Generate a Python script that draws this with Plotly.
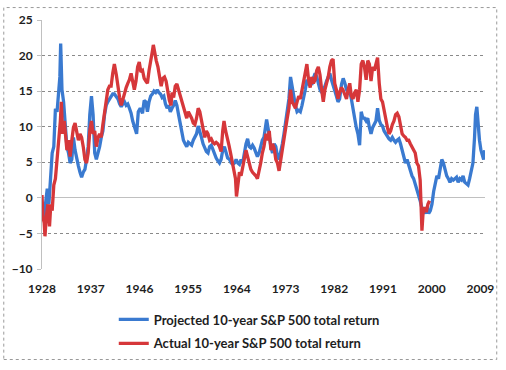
import plotly.graph_objects as go

# ---- data ----
years_projected = [
    1928.00, 1928.20, 1928.40, 1928.65, 1928.97, 1929.27, 1929.57, 1929.88, 1930.18, 1930.48,
    1930.78, 1931.09, 1931.30, 1931.45, 1931.57, 1931.69, 1931.99, 1932.30, 1932.60, 1932.90,
    1933.20, 1933.51, 1933.81, 1934.11, 1934.41, 1934.72, 1935.02, 1935.32, 1935.62, 1935.93,
    1936.23, 1936.53, 1936.83, 1937.14, 1937.44, 1937.74, 1938.04, 1938.35, 1938.65, 1938.95,
    1939.25, 1939.56, 1939.86, 1940.16, 1940.46, 1940.77, 1941.07, 1941.37, 1941.73, 1942.04,
    1942.34, 1942.64, 1942.94, 1943.25, 1943.55, 1943.85, 1944.15, 1944.46, 1944.76, 1945.06,
    1945.27, 1945.48, 1945.79, 1946.15, 1946.57, 1946.88, 1947.18, 1947.48, 1947.78, 1948.09,
    1948.39, 1948.69, 1949.00, 1949.30, 1949.60, 1949.90, 1950.20, 1950.51, 1950.81, 1951.11,
    1951.41, 1951.71, 1952.02, 1952.32, 1952.62, 1952.92, 1953.23, 1953.53, 1953.83, 1954.13,
    1954.44, 1954.74, 1955.04, 1955.34, 1955.65, 1955.95, 1956.25, 1956.55, 1956.86, 1957.16,
    1957.46, 1957.76, 1958.07, 1958.37, 1958.67, 1958.97, 1959.28, 1959.58, 1959.88, 1960.18,
    1960.49, 1960.79, 1961.09, 1961.39, 1961.70, 1962.00, 1962.30, 1962.66, 1962.96, 1963.27,
    1963.57, 1963.87, 1964.17, 1964.48, 1964.78, 1965.08, 1965.38, 1965.69, 1965.99, 1966.29,
    1966.59, 1966.90, 1967.20, 1967.50, 1967.80, 1968.11, 1968.41, 1968.71, 1969.01, 1969.32,
    1969.50, 1969.75, 1969.99, 1970.29, 1970.59, 1970.89, 1971.20, 1971.50, 1971.80, 1972.10,
    1972.41, 1972.71, 1973.01, 1973.31, 1973.62, 1973.92, 1974.22, 1974.52, 1974.83, 1975.13,
    1975.43, 1975.73, 1976.04, 1976.34, 1976.64, 1976.94, 1977.25, 1977.55, 1977.85, 1978.15,
    1978.46, 1978.76, 1979.06, 1979.36, 1979.67, 1979.97, 1980.27, 1980.57, 1980.88, 1981.18,
    1981.48, 1981.78, 1982.09, 1982.39, 1982.69, 1982.99, 1983.35, 1983.65, 1983.96, 1984.26,
    1984.56, 1984.86, 1985.16, 1985.47, 1985.77, 1986.07, 1986.37, 1986.68, 1986.98, 1987.28,
    1987.58, 1987.89, 1988.19, 1988.49, 1988.79, 1989.10, 1989.40, 1989.70, 1990.00, 1990.31,
    1990.61, 1990.91, 1991.21, 1991.52, 1991.82, 1992.12, 1992.42, 1992.73, 1993.03, 1993.33,
    1993.63, 1993.94, 1994.24, 1994.54, 1994.84, 1995.15, 1995.45, 1995.75, 1996.05, 1996.36,
    1996.66, 1996.96, 1997.26, 1997.56, 1997.87, 1998.04, 1998.24, 1998.54, 1998.84, 1999.14,
    1999.45, 1999.75, 2000.05, 2000.36, 2000.66, 2000.96, 2001.26, 2001.57, 2001.87, 2002.17,
    2002.47, 2002.78, 2003.08, 2003.38, 2003.68, 2003.99, 2004.29, 2004.59, 2004.89, 2005.20,
    2005.50, 2005.80, 2006.10, 2006.41, 2006.71, 2007.01, 2007.31, 2007.62, 2007.92, 2008.10,
    2008.34, 2008.58, 2008.83, 2009.10, 2009.35, 2009.60, 2009.80,
]
projected = [
    -1.3, -2.4, -2.5, -0.6, 1.3, -0.9, 2.7, 6.3, 7.2, 12.5,
    12.1, 16.1, 17.0, 21.7, 17.5, 15.2, 13.5, 10.8, 7.2, 6.3,
    4.9, 5.4, 8.5, 6.7, 5.4, 4.5, 3.6, 2.9, 3.6, 4.0,
    5.4, 7.2, 11.7, 14.3, 11.7, 6.3, 5.4, 6.3, 7.2, 8.5,
    9.4, 11.7, 13.0, 13.5, 13.9, 14.3, 14.6, 14.6, 14.3, 13.9,
    13.2, 12.8, 13.2, 13.5, 13.0, 13.2, 12.6, 11.9, 10.8, 9.9,
    9.2, 9.0, 12.1, 12.6, 11.9, 13.7, 13.5, 12.1, 13.5, 14.3,
    14.6, 15.0, 14.8, 15.2, 14.8, 14.6, 14.1, 14.3, 13.2, 12.6,
    13.0, 12.1, 12.6, 13.0, 13.7, 13.0, 11.7, 10.3, 9.0, 8.1,
    7.6, 7.2, 7.8, 7.6, 7.4, 8.1, 8.5, 9.0, 10.1, 9.4,
    8.5, 7.6, 7.0, 6.5, 6.3, 7.2, 7.4, 6.7, 6.3, 5.6,
    5.2, 4.9, 5.4, 6.7, 7.2, 6.3, 5.6, 5.4, 4.9, 4.7,
    4.9, 5.4, 4.9, 4.7, 5.4, 4.9, 6.3, 7.6, 8.3, 7.2,
    7.0, 7.4, 7.0, 6.3, 5.8, 6.3, 7.2, 8.1, 8.5, 9.9,
    11.0, 9.9, 8.5, 7.2, 6.3, 7.6, 7.2, 5.8, 5.4, 6.3,
    7.6, 9.0, 10.8, 11.7, 13.9, 17.0, 15.2, 14.3, 13.0, 12.1,
    12.3, 12.1, 13.0, 13.9, 15.2, 16.6, 16.1, 16.4, 15.9, 16.8,
    17.5, 17.0, 16.1, 15.2, 14.8, 15.2, 15.7, 16.4, 17.0, 17.5,
    16.6, 15.7, 15.2, 14.3, 13.5, 13.9, 16.0, 16.8, 16.1, 15.2,
    14.8, 15.0, 13.9, 12.1, 11.2, 9.9, 9.0, 7.4, 12.1, 11.2,
    11.2, 10.8, 11.2, 9.9, 9.0, 9.9, 10.3, 10.8, 12.6, 10.9,
    10.3, 10.1, 9.4, 9.0, 8.5, 8.3, 8.1, 8.5, 8.1, 7.8,
    8.1, 8.3, 7.6, 6.7, 5.8, 4.9, 5.4, 4.5, 4.0, 3.1,
    2.7, 1.8, 1.3, 0.4, -0.4, -0.9, -1.6, -1.8, -2.2, -1.3,
    -2.2, -1.8, -0.9, 0.9, 2.2, 3.1, 2.7, 4.0, 5.4, 4.9,
    4.0, 3.1, 2.7, 2.2, 2.7, 2.5, 2.7, 2.9, 2.2, 2.7,
    2.5, 3.1, 2.2, 2.0, 1.8, 2.7, 4.0, 4.9, 8.5, 11.7,
    12.8, 9.9, 8.1, 6.7, 5.8, 5.4, 6.7,
]

years_actual = [
    1928.00, 1928.18, 1928.40, 1928.55, 1928.79, 1929.09, 1929.39, 1929.63, 1929.88, 1930.18,
    1930.48, 1930.78, 1931.09, 1931.39, 1931.57, 1931.81, 1932.11, 1932.30, 1932.60, 1932.90,
    1933.20, 1933.51, 1933.81, 1934.11, 1934.41, 1934.72, 1935.02, 1935.32, 1935.62, 1935.93,
    1936.23, 1936.53, 1936.83, 1937.14, 1937.44, 1937.74, 1938.04, 1938.35, 1938.65, 1938.95,
    1939.25, 1939.56, 1939.86, 1940.16, 1940.46, 1940.77, 1941.07, 1941.37, 1941.73, 1942.04,
    1942.34, 1942.64, 1942.94, 1943.25, 1943.55, 1943.85, 1944.15, 1944.46, 1944.76, 1945.06,
    1945.36, 1945.67, 1945.97, 1946.27, 1946.57, 1946.88, 1947.18, 1947.48, 1947.78, 1948.09,
    1948.39, 1948.57, 1948.81, 1949.11, 1949.42, 1949.72, 1950.02, 1950.32, 1950.63, 1950.93,
    1951.23, 1951.53, 1951.84, 1952.02, 1952.32, 1952.62, 1952.92, 1953.23, 1953.53, 1953.83,
    1954.13, 1954.44, 1954.74, 1955.04, 1955.34, 1955.65, 1955.95, 1956.25, 1956.55, 1956.86,
    1957.16, 1957.46, 1957.76, 1958.07, 1958.37, 1958.67, 1958.97, 1959.28, 1959.58, 1959.88,
    1960.18, 1960.49, 1960.79, 1961.09, 1961.39, 1961.63, 1961.93, 1962.24, 1962.54, 1962.84,
    1963.14, 1963.45, 1963.75, 1963.93, 1964.17, 1964.48, 1964.78, 1965.08, 1965.38, 1965.69,
    1965.99, 1966.29, 1966.59, 1966.90, 1967.20, 1967.50, 1967.80, 1968.11, 1968.41, 1968.71,
    1969.01, 1969.38, 1969.68, 1969.99, 1970.29, 1970.59, 1970.89, 1971.20, 1971.50, 1971.80,
    1972.10, 1972.41, 1972.71, 1973.01, 1973.31, 1973.62, 1973.92, 1974.22, 1974.52, 1974.83,
    1975.13, 1975.43, 1975.73, 1976.04, 1976.34, 1976.64, 1976.94, 1977.25, 1977.55, 1977.85,
    1978.15, 1978.46, 1978.76, 1979.06, 1979.36, 1979.67, 1979.97, 1980.27, 1980.57, 1980.88,
    1981.18, 1981.48, 1981.78, 1982.09, 1982.39, 1982.69, 1982.99, 1983.30, 1983.60, 1983.96,
    1984.26, 1984.56, 1984.86, 1985.16, 1985.47, 1985.77, 1986.07, 1986.37, 1986.68, 1986.98,
    1987.28, 1987.58, 1987.89, 1988.19, 1988.49, 1988.79, 1989.10, 1989.40, 1989.70, 1990.00,
    1990.31, 1990.61, 1990.91, 1991.21, 1991.52, 1991.82, 1992.12, 1992.42, 1992.73, 1993.03,
    1993.33, 1993.63, 1993.94, 1994.24, 1994.54, 1994.84, 1995.15, 1995.45, 1995.75, 1996.05,
    1996.36, 1996.66, 1996.96, 1997.26, 1997.56, 1997.87, 1998.05, 1998.20, 1998.40, 1998.70,
    1999.00, 1999.30, 1999.60,
]
actual = [
    0.4, -2.7, -3.5, -5.4, -2.7, -0.9, -4.0, -0.9, -1.8, 1.8,
    2.7, 5.4, 7.2, 10.8, 13.5, 9.0, 10.8, 8.5, 6.7, 8.1,
    5.8, 8.1, 9.9, 10.5, 9.4, 8.1, 9.0, 8.5, 7.2, 5.4,
    4.9, 6.3, 9.4, 10.8, 9.0, 9.4, 7.2, 8.5, 9.0, 8.5,
    10.3, 12.1, 13.0, 15.2, 15.7, 15.7, 17.5, 18.8, 17.3, 15.2,
    14.1, 13.0, 13.9, 14.8, 15.5, 16.1, 16.6, 17.5, 16.4, 15.2,
    16.4, 18.4, 19.1, 17.7, 17.9, 16.8, 16.4, 16.1, 17.9, 19.7,
    20.6, 21.5, 20.2, 19.3, 18.4, 16.8, 15.7, 16.8, 17.0, 16.4,
    14.8, 13.7, 13.0, 14.8, 14.1, 15.7, 16.0, 15.2, 14.3, 13.5,
    12.6, 11.7, 11.2, 12.1, 11.7, 11.2, 10.5, 10.3, 11.2, 12.6,
    12.1, 10.8, 9.4, 8.5, 9.4, 9.0, 8.1, 8.3, 7.8, 7.6,
    7.8, 7.6, 7.2, 6.5, 9.4, 10.8, 9.4, 8.1, 7.4, 6.3,
    4.9, 3.6, 2.7, 0.2, 2.2, 3.6, 3.1, 4.5, 5.4, 6.7,
    5.8, 4.9, 4.0, 3.6, 3.4, 3.1, 2.7, 3.6, 4.9, 6.3,
    7.2, 9.0, 8.1, 9.4, 6.7, 7.6, 7.0, 5.4, 4.9, 3.8,
    5.4, 6.7, 8.5, 9.9, 11.2, 12.6, 15.2, 13.5, 13.0, 12.6,
    13.5, 14.3, 13.9, 15.2, 16.8, 17.9, 18.8, 16.6, 15.5, 17.0,
    16.1, 16.6, 17.9, 18.4, 17.3, 15.2, 13.5, 15.2, 16.1, 17.0,
    18.4, 19.3, 19.5, 16.1, 15.2, 13.9, 14.8, 15.5, 15.2, 14.3,
    13.9, 15.2, 16.1, 14.3, 13.9, 14.8, 15.2, 13.5, 15.2, 18.8,
    19.3, 18.4, 16.6, 19.3, 18.8, 16.4, 18.4, 17.9, 18.8, 19.7,
    16.1, 13.9, 13.5, 12.1, 11.2, 9.9, 9.0, 9.4, 10.3, 10.8,
    11.7, 11.9, 11.4, 10.3, 9.0, 8.7, 8.5, 8.1, 8.1, 7.6,
    7.2, 6.7, 6.3, 4.9, 4.5, 2.5, -0.5, -4.6, -2.2, -1.3,
    -2.0, -0.9, -0.4,
]

x_tick_years = [1928, 1937, 1946, 1955, 1964, 1973, 1982, 1991, 2000, 2009]
x_tick_labels = [str(y) for y in x_tick_years]
y_tick_values = [-10, -5, 0, 5, 10, 15, 20, 25]

name_projected = "Projected 10-year S&P 500 total return"
name_actual = "Actual 10-year S&P 500 total return"

# ---- figure ----
BLUE = "#3A7AD0"
RED = "#D6373A"
FONT = "Lato, Carlito, Calibri, sans-serif"

fig = go.Figure()
fig.add_trace(go.Scatter(
    x=years_projected, y=projected, mode="lines", name=name_projected,
    line=dict(color=BLUE, width=3.3), legend="legend",
))
fig.add_trace(go.Scatter(
    x=years_actual, y=actual, mode="lines", name=name_actual,
    line=dict(color=RED, width=3.3), legend="legend2",
))

X_RANGE = [1928, 2009.85]
Y_RANGE = [-10, 25]

fig.update_layout(
    width=506, height=370,
    margin=dict(l=40, r=14, t=14, b=96),
    paper_bgcolor="white", plot_bgcolor="white",
    font=dict(family=FONT, size=12, color="#1e1e1e", weight="bold"),
    xaxis=dict(
        range=X_RANGE, tickmode="array", tickvals=x_tick_years, ticktext=x_tick_labels,
        showgrid=False, zeroline=False, showline=False,
        ticks="outside", ticklen=9, tickcolor="rgba(0,0,0,0)",
        tickfont=dict(size=12), ticklabeloverflow="allow",
    ),
    xaxis2=dict(
        range=X_RANGE, overlaying="x", anchor="free",
        position=(0 - Y_RANGE[0]) / (Y_RANGE[1] - Y_RANGE[0]),
        side="bottom", tickmode="array", tickvals=x_tick_years,
        showticklabels=False, ticks="outside", ticklen=3, tickcolor="#b4b4b4",
        showgrid=False, zeroline=False, showline=False,
    ),
    yaxis=dict(
        range=Y_RANGE, tickmode="array", tickvals=y_tick_values,
        showgrid=True, gridcolor="#8a8a8a", gridwidth=1, griddash="dot",
        zeroline=True, zerolinecolor="#c0c0c0", zerolinewidth=1,
        showline=True, linecolor="#c0c0c0", linewidth=1,
        ticks="outside", ticklen=4, tickcolor="#c0c0c0",
        ticklabelstandoff=2, tickfont=dict(size=12),
    ),
    legend=dict(
        x=0.162, y=-0.2027, xanchor="left", yanchor="middle",
        bgcolor="rgba(0,0,0,0)", font=dict(size=13),
    ),
    legend2=dict(
        x=0.162, y=-0.2988, xanchor="left", yanchor="middle",
        bgcolor="rgba(0,0,0,0)", font=dict(size=13),
    ),
    shapes=[dict(
        type="rect", xref="paper", yref="paper",
        x0=-0.0863, x1=1.0265, y0=-0.3635, y1=1.05,
        line=dict(color="#9a9a9a", width=1, dash="dot"),
        fillcolor="rgba(0,0,0,0)", layer="above",
    )],
    showlegend=True,
)

fig.write_html(
    "out.html",
    config={"displayModeBar": False},
    post_script="document.body.style.margin='0';document.body.style.overflow='hidden';",
)
